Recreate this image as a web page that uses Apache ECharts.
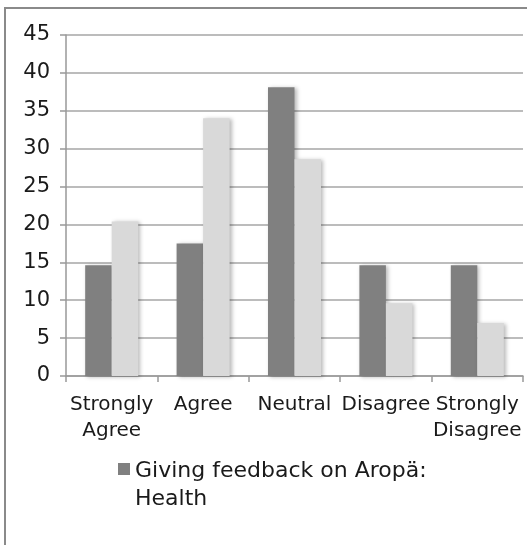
<!DOCTYPE html>
<html>
<head>
<meta charset="utf-8">
<script src="https://cdn.jsdelivr.net/npm/echarts@6/dist/echarts.min.js"></script>
<style>
  html, body { margin: 0; padding: 0; background: #fff; }
  #chart { width: 527px; height: 545px; }
</style>
</head>
<body>
<div id="chart"></div>
<script>
// Survey responses per answer option
const categories = ['Strongly\nAgree', 'Agree', 'Neutral', 'Disagree', 'Strongly\nDisagree'];
const healthValues = [14.6, 17.5, 38.1, 14.6, 14.6];
const otherValues = [20.4, 34.0, 28.6, 9.6, 7.0];
const yTicks = { min: 0, max: 45, interval: 5 };

const healthName = 'Giving feedback on Aropä:\nHealth';
const otherName = 'Other responses';

const font = '"DejaVu Sans", Verdana, sans-serif';
const barShadow = {
  shadowColor: 'rgba(0,0,0,0.28)',
  shadowBlur: 4,
  shadowOffsetX: 2,
  shadowOffsetY: 1
};

// Legend marker: a square sitting at the top of a taller box, so it lines up
// with the first line of the two-line legend text.
const legendIcon = 'path://M0,0h12v12h-12z M0,44';

const chart = echarts.init(document.getElementById('chart'), null, { renderer: 'canvas' });
chart.setOption({
  animation: false,
  backgroundColor: '#fff',
  graphic: [{
    type: 'rect',
    shape: { x: 5, y: 8, width: 600, height: 600 },
    style: { fill: 'none', stroke: '#8a8a8a', lineWidth: 2 },
    silent: true
  }],
  grid: { left: 66, right: 4, top: 35, bottom: 169, containLabel: false },
  legend: {
    data: [healthName],
    left: 118,
    top: 457,
    icon: legendIcon,
    itemWidth: 12,
    itemHeight: 44,
    itemGap: 0,
    padding: 0,
    textStyle: {
      fontFamily: font,
      fontSize: 22,
      color: '#1a1a1a',
      lineHeight: 28
    }
  },
  xAxis: {
    type: 'category',
    data: categories,
    axisLine: { lineStyle: { color: '#999', width: 1.5 } },
    axisTick: { show: true, length: 6, lineStyle: { color: '#999', width: 1.5 } },
    axisLabel: {
      interval: 0,
      margin: 16,
      fontFamily: font,
      fontSize: 20,
      lineHeight: 26,
      color: '#1a1a1a'
    },
    splitLine: { show: false }
  },
  yAxis: {
    type: 'value',
    min: yTicks.min,
    max: yTicks.max,
    interval: yTicks.interval,
    axisLine: { show: true, lineStyle: { color: '#999', width: 1.5 } },
    axisTick: { show: true, length: 6, lineStyle: { color: '#999', width: 1.5 } },
    axisLabel: {
      margin: 16,
      fontFamily: font,
      fontSize: 21,
      color: '#1a1a1a'
    },
    splitLine: { lineStyle: { color: '#a6a6a6', width: 1.5 } }
  },
  series: [
    {
      name: healthName,
      type: 'bar',
      data: healthValues,
      barGap: '0%',
      barCategoryGap: '42%',
      itemStyle: Object.assign({ color: '#808080' }, barShadow)
    },
    {
      name: otherName,
      type: 'bar',
      data: otherValues,
      barGap: '0%',
      barCategoryGap: '42%',
      itemStyle: Object.assign({ color: '#d9d9d9' }, barShadow)
    }
  ]
});
</script>
</body>
</html>
